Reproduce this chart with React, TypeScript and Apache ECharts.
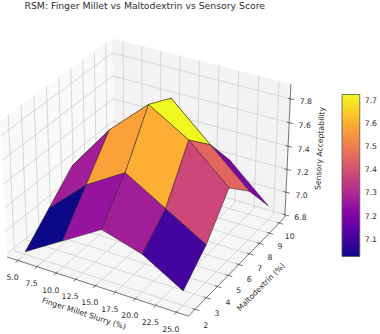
import React, { useEffect, useRef } from "react";
import * as echarts from "echarts";

const slurry = [5, 10, 15, 20, 25];
const malto = [2, 4, 6, 8, 10];
// one row per maltodextrin level, one column per slurry level
const acceptability = [
  [6.8, 7.0, 7.2, 7.1, 6.9],
  [7.0, 7.3, 7.5, 7.3, 7.1],
  [7.2, 7.6, 7.9, 7.7, 7.4],
  [7.1, 7.4, 7.8, 7.5, 7.2],
  [6.9, 7.1, 7.3, 7.2, 6.9],
];
const xTicks = [5, 7.5, 10, 12.5, 15, 17.5, 20, 22.5, 25];
const yTicks = [2, 3, 4, 5, 6, 7, 8, 9, 10];
const zTicks = [6.8, 7.0, 7.2, 7.4, 7.6, 7.8];
const barTicks = [7.1, 7.2, 7.3, 7.4, 7.5, 7.6, 7.7];
const xPane = [3.542, 26.458];
const yPane = [1.417, 10.583];
const zPane = [6.777, 7.923];
const barMin = 7.025;
const barMax = 7.725;
const plasma = ["#0d0887", "#41049d", "#6a00a8", "#8f0da4", "#b12a90", "#cc4778", "#e16462", "#f2844b", "#fca636", "#fcce25", "#f0f921"];
const TEXT = "#2e2e2e";
const FONT = "DejaVu Sans";

// matplotlib's camera: elev 30, azim -60, dist 10, box aspect 4:4:3
const BOX = [1.1905, 1.1905, 0.8929];
const U = [0.866, 0.5, 0];
const V = [-0.25, 0.433, 0.866];
const W = [0.433, -0.75, 0.5];
const dot = (a: number[], b: number[]) => a[0] * b[0] + a[1] * b[1] + a[2] * b[2];
const rel = (x: number, y: number, z: number) => [
  ((x - xPane[0]) / (xPane[1] - xPane[0]) - 0.5) * BOX[0],
  ((y - yPane[0]) / (yPane[1] - yPane[0]) - 0.5) * BOX[1],
  ((z - zPane[0]) / (zPane[1] - zPane[0]) - 0.5) * BOX[2],
];
const depth = (x: number, y: number, z: number) => 10 - dot(rel(x, y, z), W);
const project = (x: number, y: number, z: number) => {
  const r = rel(x, y, z);
  const d = 10 - dot(r, W);
  return [dot(r, U) / d, dot(r, V) / d];
};

const hex = (s: string) => [1, 3, 5].map((i) => parseInt(s.slice(i, i + 2), 16));
const plasmaAt = (t: number) => {
  const p = Math.max(0, Math.min(1, t)) * (plasma.length - 1);
  const i = Math.min(plasma.length - 2, Math.floor(p));
  const a = hex(plasma[i]);
  const b = hex(plasma[i + 1]);
  const c = a.map((v, k) => Math.round(v + (b[k] - v) * (p - i)));
  return `rgb(${c[0]},${c[1]},${c[2]})`;
};

const [x0, x1] = xPane;
const [y0, y1] = yPane;
const [z0, z1] = zPane;

// panes
const panes = [
  { fill: "#f9f9f9", pts: [[x0, y0, z0], [x0, y1, z0], [x0, y1, z1], [x0, y0, z1]] },
  { fill: "#f3f3f3", pts: [[x0, y1, z0], [x1, y1, z0], [x1, y1, z1], [x0, y1, z1]] },
  { fill: "#f6f6f6", pts: [[x0, y0, z0], [x1, y0, z0], [x1, y1, z0], [x0, y1, z0]] },
];

// grid lines
const gridLines: number[][][] = [];
xTicks.forEach((x) => {
  gridLines.push([[x, y0, z0], [x, y1, z0], [x, y1, z1]]);
});
yTicks.forEach((y) => {
  gridLines.push([[x1, y, z0], [x0, y, z0], [x0, y, z1]]);
});
zTicks.forEach((z) => {
  gridLines.push([[x0, y0, z], [x0, y1, z], [x1, y1, z]]);
});

// axis lines and tick marks
const axisLines: number[][][] = [
  [[x0, y0, z0], [x1, y0, z0]],
  [[x1, y0, z0], [x1, y1, z0]],
  [[x1, y1, z0], [x1, y1, z1]],
];
xTicks.forEach((x) => axisLines.push([[x, y0 - 0.2, z0], [x, y0 + 0.12, z0]]));
yTicks.forEach((y) => axisLines.push([[x1 + 0.5, y, z0], [x1 - 0.3, y, z0]]));
zTicks.forEach((z) => axisLines.push([[x1 + 0.5, y1, z], [x1 - 0.3, y1, z]]));

// surface cells, far to near
const cells: { pts: number[][]; avg: number; d: number }[] = [];
for (let j = 0; j < malto.length - 1; j++) {
  for (let i = 0; i < slurry.length - 1; i++) {
    const pts = [
      [slurry[i], malto[j], acceptability[j][i]],
      [slurry[i + 1], malto[j], acceptability[j][i + 1]],
      [slurry[i + 1], malto[j + 1], acceptability[j + 1][i + 1]],
      [slurry[i], malto[j + 1], acceptability[j + 1][i]],
    ];
    const avg = pts.reduce((s, p) => s + p[2], 0) / 4;
    const d = pts.reduce((s, p) => s + depth(p[0], p[1], p[2]), 0) / 4;
    cells.push({ pts, avg, d });
  }
}
cells.sort((a, b) => b.d - a.d);

// tick labels
const tickLabels = [
  ...xTicks.map((x) => ({ text: x.toFixed(1), at: [x, y0, z0], dx: -5.5, dy: 17 })),
  ...yTicks.map((y) => ({ text: String(y), at: [x1, y, z0], dx: 10.5, dy: 13.5 + (3 * (10 - y)) / 8 })),
  ...zTicks.map((z) => ({ text: z.toFixed(1), at: [x1, y1, z], dx: 15.5, dy: 2.8 })),
];

const layer = (items: any[], renderItem: any) => ({
  type: "custom",
  coordinateSystem: "cartesian2d",
  xAxisIndex: 0,
  yAxisIndex: 0,
  clip: false,
  silent: true,
  data: items.map((_, i) => [i]),
  renderItem,
});

const toPx = (api: any, p: number[]) => api.coord(project(p[0], p[1], p[2]));

const option: any = {
  animation: false,
  backgroundColor: "#ffffff",
  title: {
    text: "RSM: Finger Millet vs Maltodextrin vs Sensory Score",
    left: 24.5,
    top: 1,
    padding: 0,
    textStyle: { fontFamily: FONT, fontSize: 9.3, fontWeight: "normal", color: TEXT },
  },
  grid: [
    { left: 0, right: 0, top: 0, bottom: 0 },
    { left: 342, width: 20, top: 94.5, height: 162 },
  ],
  xAxis: [
    { type: "value", gridIndex: 0, min: -148.5 / 1746, max: 231.5 / 1746, show: false },
    { type: "value", gridIndex: 1, min: 0, max: 1, show: false },
  ],
  yAxis: [
    { type: "value", gridIndex: 0, min: -163.3 / 1746, max: 170.7 / 1746, show: false },
    {
      type: "value",
      gridIndex: 1,
      position: "right",
      min: barMin,
      max: barMax,
      splitLine: { show: false },
      axisLine: { show: false },
      axisTick: { show: true, length: 2.5, customValues: barTicks, lineStyle: { color: "#333", width: 0.7 } },
      axisLabel: {
        show: true,
        margin: 5,
        customValues: barTicks,
        formatter: (v: number) => v.toFixed(1),
        fontFamily: FONT,
        fontSize: 7.7,
        color: TEXT,
      },
    },
  ],
  series: [
    layer(panes, (p: any, api: any) => ({
      type: "polygon",
      shape: { points: panes[p.dataIndex].pts.map((q) => toPx(api, q)) },
      style: { fill: panes[p.dataIndex].fill, stroke: "none" },
    })),
    layer(gridLines, (p: any, api: any) => ({
      type: "polyline",
      shape: { points: gridLines[p.dataIndex].map((q) => toPx(api, q)) },
      style: { fill: "none", stroke: "#d2d2d2", lineWidth: 0.9 },
    })),
    layer(axisLines, (p: any, api: any) => ({
      type: "polyline",
      shape: { points: axisLines[p.dataIndex].map((q) => toPx(api, q)) },
      style: { fill: "none", stroke: "#3a3a3a", lineWidth: 0.7 },
    })),
    layer(tickLabels, (p: any, api: any) => {
      const t = tickLabels[p.dataIndex];
      const c = toPx(api, t.at);
      return {
        type: "text",
        x: c[0] + t.dx,
        y: c[1] + t.dy,
        style: { text: t.text, fill: TEXT, font: `7.7px "${FONT}"`, align: "center", verticalAlign: "middle" },
      };
    }),
    layer(cells, (p: any, api: any) => {
      const c = cells[p.dataIndex];
      return {
        type: "polygon",
        shape: { points: c.pts.map((q) => toPx(api, q)) },
        style: {
          fill: plasmaAt((c.avg - barMin) / (barMax - barMin)),
          stroke: "#2a2020",
          lineWidth: 0.5,
          lineJoin: "round",
        },
      };
    }),
    {
      type: "custom",
      coordinateSystem: "cartesian2d",
      xAxisIndex: 1,
      yAxisIndex: 1,
      clip: false,
      silent: true,
      data: [[0]],
      renderItem: (_: any, api: any) => {
        const a = api.coord([0, barMax]);
        const b = api.coord([1, barMin]);
        return {
          type: "rect",
          shape: { x: a[0], y: a[1], width: b[0] - a[0], height: b[1] - a[1] },
          style: {
            fill: new echarts.graphic.LinearGradient(
              0, 1, 0, 0,
              plasma.map((color, i) => ({ offset: i / (plasma.length - 1), color }))
            ),
            stroke: "#555555",
            lineWidth: 0.8,
          },
        };
      },
    },
  ],
  graphic: [
    {
      type: "text",
      x: 84,
      y: 313.5,
      rotation: -(18 * Math.PI) / 180,
      style: { text: "Finger Millet Slurry (%)", fill: TEXT, font: `7.7px "${FONT}"`, align: "center", verticalAlign: "middle" },
    },
    {
      type: "text",
      x: 261,
      y: 287,
      rotation: (45 * Math.PI) / 180,
      style: { text: "Maltodextrin (%)", fill: TEXT, font: `7.7px "${FONT}"`, align: "center", verticalAlign: "middle" },
    },
    {
      type: "text",
      x: 320,
      y: 148.5,
      rotation: (87 * Math.PI) / 180,
      style: { text: "Sensory Acceptability", fill: TEXT, font: `7.7px "${FONT}"`, align: "center", verticalAlign: "middle" },
    },
  ],
};

export default function App() {
  const ref = useRef<HTMLDivElement>(null);
  useEffect(() => {
    document.body.style.margin = "0";
    const chart = echarts.init(ref.current!, undefined, { renderer: "svg" });
    chart.setOption(option);
    return () => chart.dispose();
  }, []);
  return <div ref={ref} style={{ width: 380, height: 334 }} />;
}
